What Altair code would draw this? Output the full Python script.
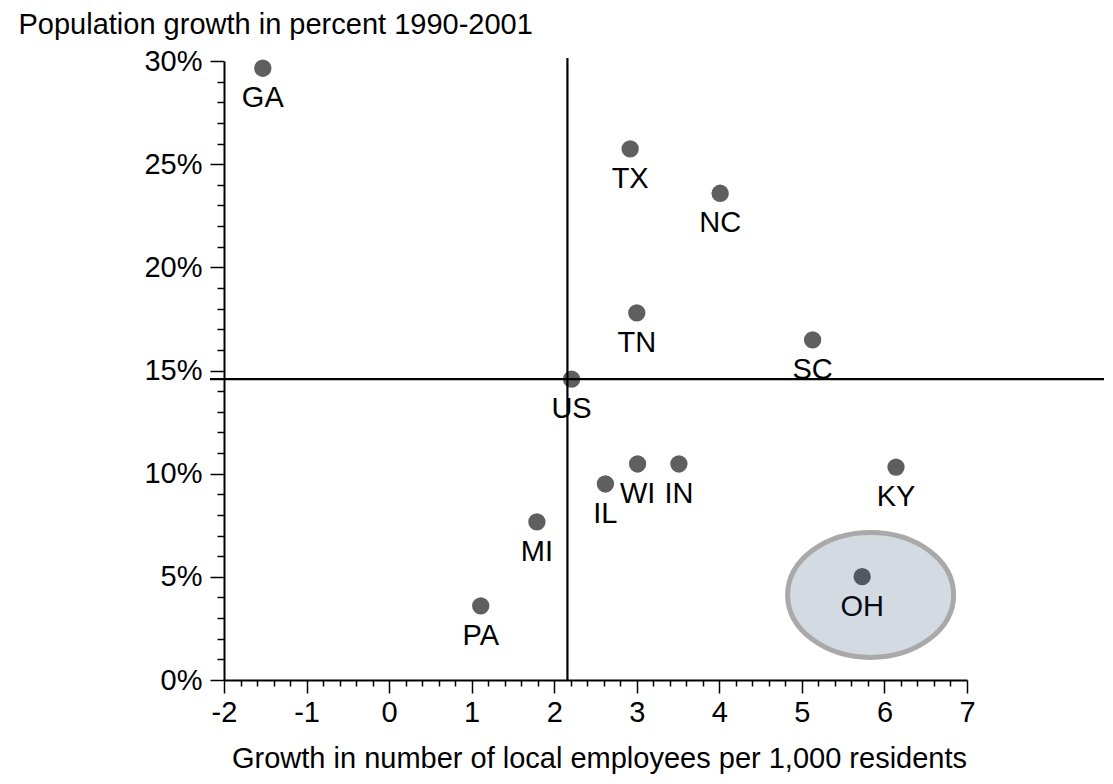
import altair as alt
import pandas as pd

# ---- data ----
states = ["GA", "TX", "NC", "TN", "SC", "US", "WI", "IN", "IL", "KY", "MI", "PA", "OH"]
employees_growth = [-1.53, 2.92, 4.01, 3.00, 5.13, 2.21, 3.01, 3.51, 2.62, 6.14, 1.79, 1.11, 5.73]
population_growth = [29.65, 25.74, 23.59, 17.79, 16.48, 14.58, 10.47, 10.47, 9.50, 10.32, 7.66, 3.59, 5.01]

# US reference (cross-hair) lines
ref_employees = [2.16]
ref_population = [14.58]

# highlighted state
highlight = ["OH"]

x_ticks = [round(-2 + 0.2 * i, 1) for i in range(46)]
y_ticks = list(range(0, 31))

FONT = "Liberation Sans"
FS = 29
W, H = 743, 619

df = pd.DataFrame({"state": states, "x": employees_growth, "y": population_growth})
df_hl = df[df["state"].isin(highlight)]
df_vref = pd.DataFrame({"x": ref_employees})
df_href = pd.DataFrame({"y": ref_population})

xscale = alt.Scale(domain=[-2, 7], nice=False, zero=False)
yscale = alt.Scale(domain=[0, 30], nice=False, zero=False)

x_major = "abs(datum.value - round(datum.value)) < 0.001"
y_major = "round(datum.value) % 5 === 0"

x_axis = alt.Axis(
    values=x_ticks,
    labelExpr=x_major + " ? '' + round(datum.value) : ''",
    tickSize=13,
    tickDash={"condition": {"test": x_major, "value": [30, 30]}, "value": [6, 60]},
    tickColor="black", tickWidth=1.5,
    domainColor="black", domainWidth=2,
    labelFont=FONT, labelFontSize=FS, labelColor="black", labelPadding=5,
    labelOverlap=False, labelFlush=False,
    grid=False,
    title="Growth in number of local employees per 1,000 residents",
    titleFont=FONT, titleFontSize=FS, titleFontWeight="normal", titleColor="black",
    titleAlign="center", titleBaseline="alphabetic", titleX=375, titleY=87,
)
y_axis = alt.Axis(
    values=y_ticks,
    labelExpr=y_major + " ? round(datum.value) + '%' : ''",
    tickSize=14,
    tickDash={"condition": {"test": y_major, "value": [30, 30]}, "value": [7, 60]},
    tickColor="black", tickWidth=1.5,
    domainColor="black", domainWidth=2,
    labelFont=FONT, labelFontSize=FS, labelColor="black", labelPadding=8,
    labelOverlap=False, labelFlush=False,
    grid=False,
    title="Population growth in percent 1990-2001",
    titleFont=FONT, titleFontSize=FS, titleFontWeight="normal", titleColor="black",
    titleAngle=0, titleAlign="left", titleBaseline="alphabetic", titleX=-206, titleY=-28,
)

# identical axis definitions in every layer so that they merge cleanly
X = alt.X("x:Q", scale=xscale, axis=x_axis)
Y = alt.Y("y:Q", scale=yscale, axis=y_axis)

points = alt.Chart(df).mark_circle(size=300, color="#5f5f5f", opacity=1).encode(x=X, y=Y)

labels = alt.Chart(df).mark_text(
    dy=39, baseline="alphabetic", align="center", font=FONT, fontSize=FS, color="black"
).encode(x=X, y=Y, text="state:N")

vline = alt.Chart(df_vref).mark_rule(color="black", strokeWidth=2.2).encode(
    x=X, y=alt.value(-3), y2=alt.value(H),
)

hline = alt.Chart(df_href).mark_rule(color="black", strokeWidth=2.2).encode(
    y=Y, x=alt.value(-14), x2=alt.value(W + 150),
)

ellipse_path = "M -0.898 0.22 A 1 0.753 0 1 0 1.102 0.22 A 1 0.753 0 1 0 -0.898 0.22 Z"
ellipse = alt.Chart(df_hl).mark_point(
    shape=ellipse_path, size=166 * 166, filled=True,
    fill="#1b3a63", fillOpacity=0.19,
    stroke="#a9a9a9", strokeWidth=5, strokeOpacity=1, opacity=1,
).encode(x=X, y=Y)

chart = alt.layer(points, labels, vline, hline, ellipse).properties(
    width=W, height=H,
    autosize=alt.AutoSizeParams(type="none"),
    padding={"left": 216, "top": 53, "right": 137, "bottom": 96},
).configure_view(stroke=None)

chart.save("out.html", embed_options={"renderer": "svg", "actions": False})
